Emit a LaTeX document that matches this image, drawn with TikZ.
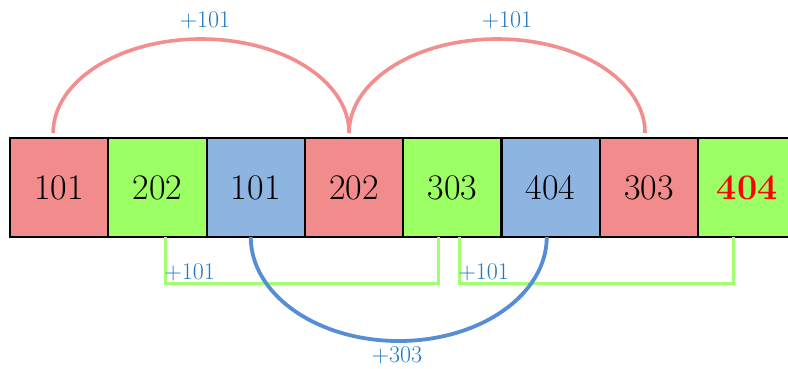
\documentclass[tikz,border=0pt]{standalone}
\usepackage{fontspec}
\usetikzlibrary{calc}
\definecolor{cellred}{HTML}{F28C8C}
\definecolor{cellgreen}{HTML}{9CFF63}
\definecolor{cellblue}{HTML}{8EB4E2}
\definecolor{arcred}{HTML}{F28E8E}
\definecolor{linkgreen}{HTML}{A2FF70}
\definecolor{arcblue}{HTML}{558ED5}
\definecolor{labelblue}{HTML}{1F78C4}
\begin{document}
\begin{tikzpicture}[x=1pt,y=1pt,
  cell/.style={draw=black,line width=2.2pt,minimum width=98.3pt,minimum height=99pt,
    inner sep=0pt,outer sep=0pt,font=\fontsize{36}{38}\selectfont},
  redcell/.style={cell,fill=cellred},
  greencell/.style={cell,fill=cellgreen},
  bluecell/.style={cell,fill=cellblue},
  redarc/.style={draw=arcred,line width=3.6pt},
  bluearc/.style={draw=arcblue,line width=3.8pt},
  greenlink/.style={draw=linkgreen,line width=3pt},
  steplabel/.style={text=labelblue,font=\fontsize{24}{26}\selectfont,inner sep=0pt}]
\useasboundingbox (0,0) rectangle (788,368);
\begin{scope}
\clip (0,0) rectangle (788,368);
% row of cells
\node[redcell]   (b1) at ({10+98.3*0.5},180.5) {101};
\node[greencell] (b2) at ({10+98.3*1.5},180.5) {202};
\node[bluecell]  (b3) at ({10+98.3*2.5},180.5) {101};
\node[redcell]   (b4) at ({10+98.3*3.5},180.5) {202};
\node[greencell] (b5) at ({10+98.3*4.5},180.5) {303};
\node[bluecell]  (b6) at ({10+98.3*5.5},180.5) {404};
\node[redcell]   (b7) at ({10+98.3*6.5},180.5) {303};
\node[greencell] (b8) at ({10+98.3*7.5},180.5) {\textcolor{red}{\textbf{404}}};
\end{scope}
% red jumps over the top
\coordinate (r1) at ($(b1.north)+(-6,5)$);
\coordinate (r2) at ($(b4.north)+(-5,5)$);
\draw[redarc] (r1) arc[start angle=180,end angle=0,x radius=148,y radius=94];
\draw[redarc] (r2) arc[start angle=180,end angle=0,x radius=148,y radius=94];
\node[steplabel] (t1) at (205,348) {+101};
\node[steplabel] (t2) at (507,348) {+101};
% green brackets underneath
\draw[greenlink] ($(b2.south)+(8,0)$) -- ++(0,-46) -| ($(b5.south)+(-14,0)$);
\draw[greenlink] ($(b5.south)+(7,0)$) -- ++(0,-46) -| ($(b8.south)+(-14,0)$);
\node[steplabel,anchor=south west] (g1) at ($(b2.south)+(7,-44)$) {+101};
\node[steplabel,anchor=south west] (g2) at ($(b5.south)+(6,-44)$) {+101};
% blue jump below
\coordinate (u1) at ($(b3.south)+(-5,0)$);
\draw[bluearc] (u1) arc[start angle=180,end angle=360,x radius=148,y radius=104];
\node[steplabel] (t3) at (397,13) {+303};
\end{tikzpicture}
\end{document}
